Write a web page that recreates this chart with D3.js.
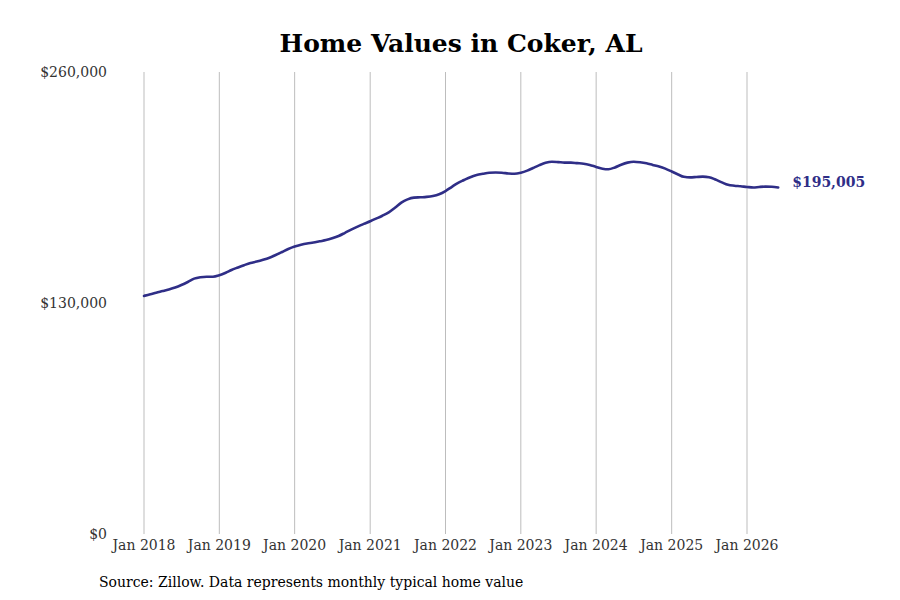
<!DOCTYPE html>
<html>
<head>
<meta charset="utf-8">
<script src="https://cdn.jsdelivr.net/npm/d3@7"></script>
<style>
  body { margin: 0; background: #fff; }
  text { font-family: "DejaVu Serif", serif; }
</style>
</head>
<body>
<svg width="900" height="600"></svg>
<script>
// monthly typical home value, Jan 2018 .. Jun 2026
const startMonth = "2018-01";
const values = [
  134000, 134900, 135800, 136700, 137600, 138700, 140100, 141800, 143700, 144500, 144800, 144800,
  145600, 147000, 148600, 150000, 151300, 152500, 153300, 154300, 155500, 157000, 158700, 160400,
  161800, 162800, 163500, 164000, 164700, 165400, 166400, 167700, 169500, 171300, 173000, 174500,
  176000, 177600, 179100, 181000, 183600, 186500, 188300, 189300, 189500, 189700, 190200, 191200,
  193000, 195400, 197500, 199200, 200800, 202000, 202700, 203300, 203400, 203300, 202900, 202700,
  203300, 204500, 206000, 207600, 208900, 209500, 209300, 209000, 209000, 208700, 208400, 207700,
  206600, 205600, 205300, 206300, 207800, 209000, 209500, 209200, 208600, 207700, 206800, 205600,
  204000, 202300, 201000, 200700, 200900, 201100, 200800, 199500, 197900, 196500, 196000, 195700,
  195300, 195000, 195300, 195500, 195400, 195005
];
const yTicks = [0, 130000, 260000];
const title = "Home Values in Coker, AL";
const source = "Source: Zillow. Data represents monthly typical home value";
const lastLabel = "$195,005";

const parse = d3.timeParse("%Y-%m");
const t0 = parse(startMonth);
const data = values.map((v, i) => ({ date: d3.timeMonth.offset(t0, i), value: v }));

const svg = d3.select("svg");
const lineColor = "#2f2e87";

// x: Jan 2018 -> 144, Jan 2026 -> 747
const x = d3.scaleTime()
  .domain([parse("2018-01"), parse("2026-01")])
  .range([144, 747]);
const y = d3.scaleLinear()
  .domain([0, 260000])
  .range([534, 72]);

// title
svg.append("text")
  .attr("x", 461)
  .attr("y", 52)
  .attr("text-anchor", "middle")
  .attr("font-size", 25)
  .attr("font-weight", "bold")
  .attr("fill", "#000")
  .text(title);

// vertical grid + x labels
const xTicks = x.ticks(d3.timeYear.every(1));
svg.append("g")
  .attr("class", "grid")
  .selectAll("line")
  .data(xTicks)
  .enter()
  .append("line")
  .attr("x1", d => x(d))
  .attr("x2", d => x(d))
  .attr("y1", y(260000))
  .attr("y2", y(0))
  .attr("stroke", "#bdbdbd")
  .attr("stroke-width", 1);

svg.append("g")
  .selectAll("text")
  .data(xTicks)
  .enter()
  .append("text")
  .attr("x", d => x(d))
  .attr("y", 550)
  .attr("text-anchor", "middle")
  .attr("font-size", 14)
  .attr("fill", "#333")
  .text(d3.timeFormat("Jan %Y"));

// y labels
const fmt = d3.format("$,.0f");
svg.append("g")
  .selectAll("text")
  .data(yTicks)
  .enter()
  .append("text")
  .attr("x", 107)
  .attr("y", d => y(d))
  .attr("dy", "0.35em")
  .attr("text-anchor", "end")
  .attr("font-size", 14)
  .attr("fill", "#333")
  .text(d => fmt(d));

// line
const line = d3.line()
  .curve(d3.curveMonotoneX)
  .x(d => x(d.date))
  .y(d => y(d.value));

svg.append("path")
  .datum(data)
  .attr("fill", "none")
  .attr("stroke", lineColor)
  .attr("stroke-width", 2.6)
  .attr("stroke-linejoin", "round")
  .attr("stroke-linecap", "round")
  .attr("d", line);

// end label
const last = data[data.length - 1];
svg.append("text")
  .attr("x", x(last.date) + 14)
  .attr("y", y(last.value) - 5)
  .attr("dy", "0.35em")
  .attr("font-size", 14)
  .attr("font-weight", "bold")
  .attr("fill", lineColor)
  .text(lastLabel);

// source
svg.append("text")
  .attr("x", 99)
  .attr("y", 587)
  .attr("font-size", 14)
  .attr("fill", "#000")
  .text(source);
</script>
</body>
</html>
